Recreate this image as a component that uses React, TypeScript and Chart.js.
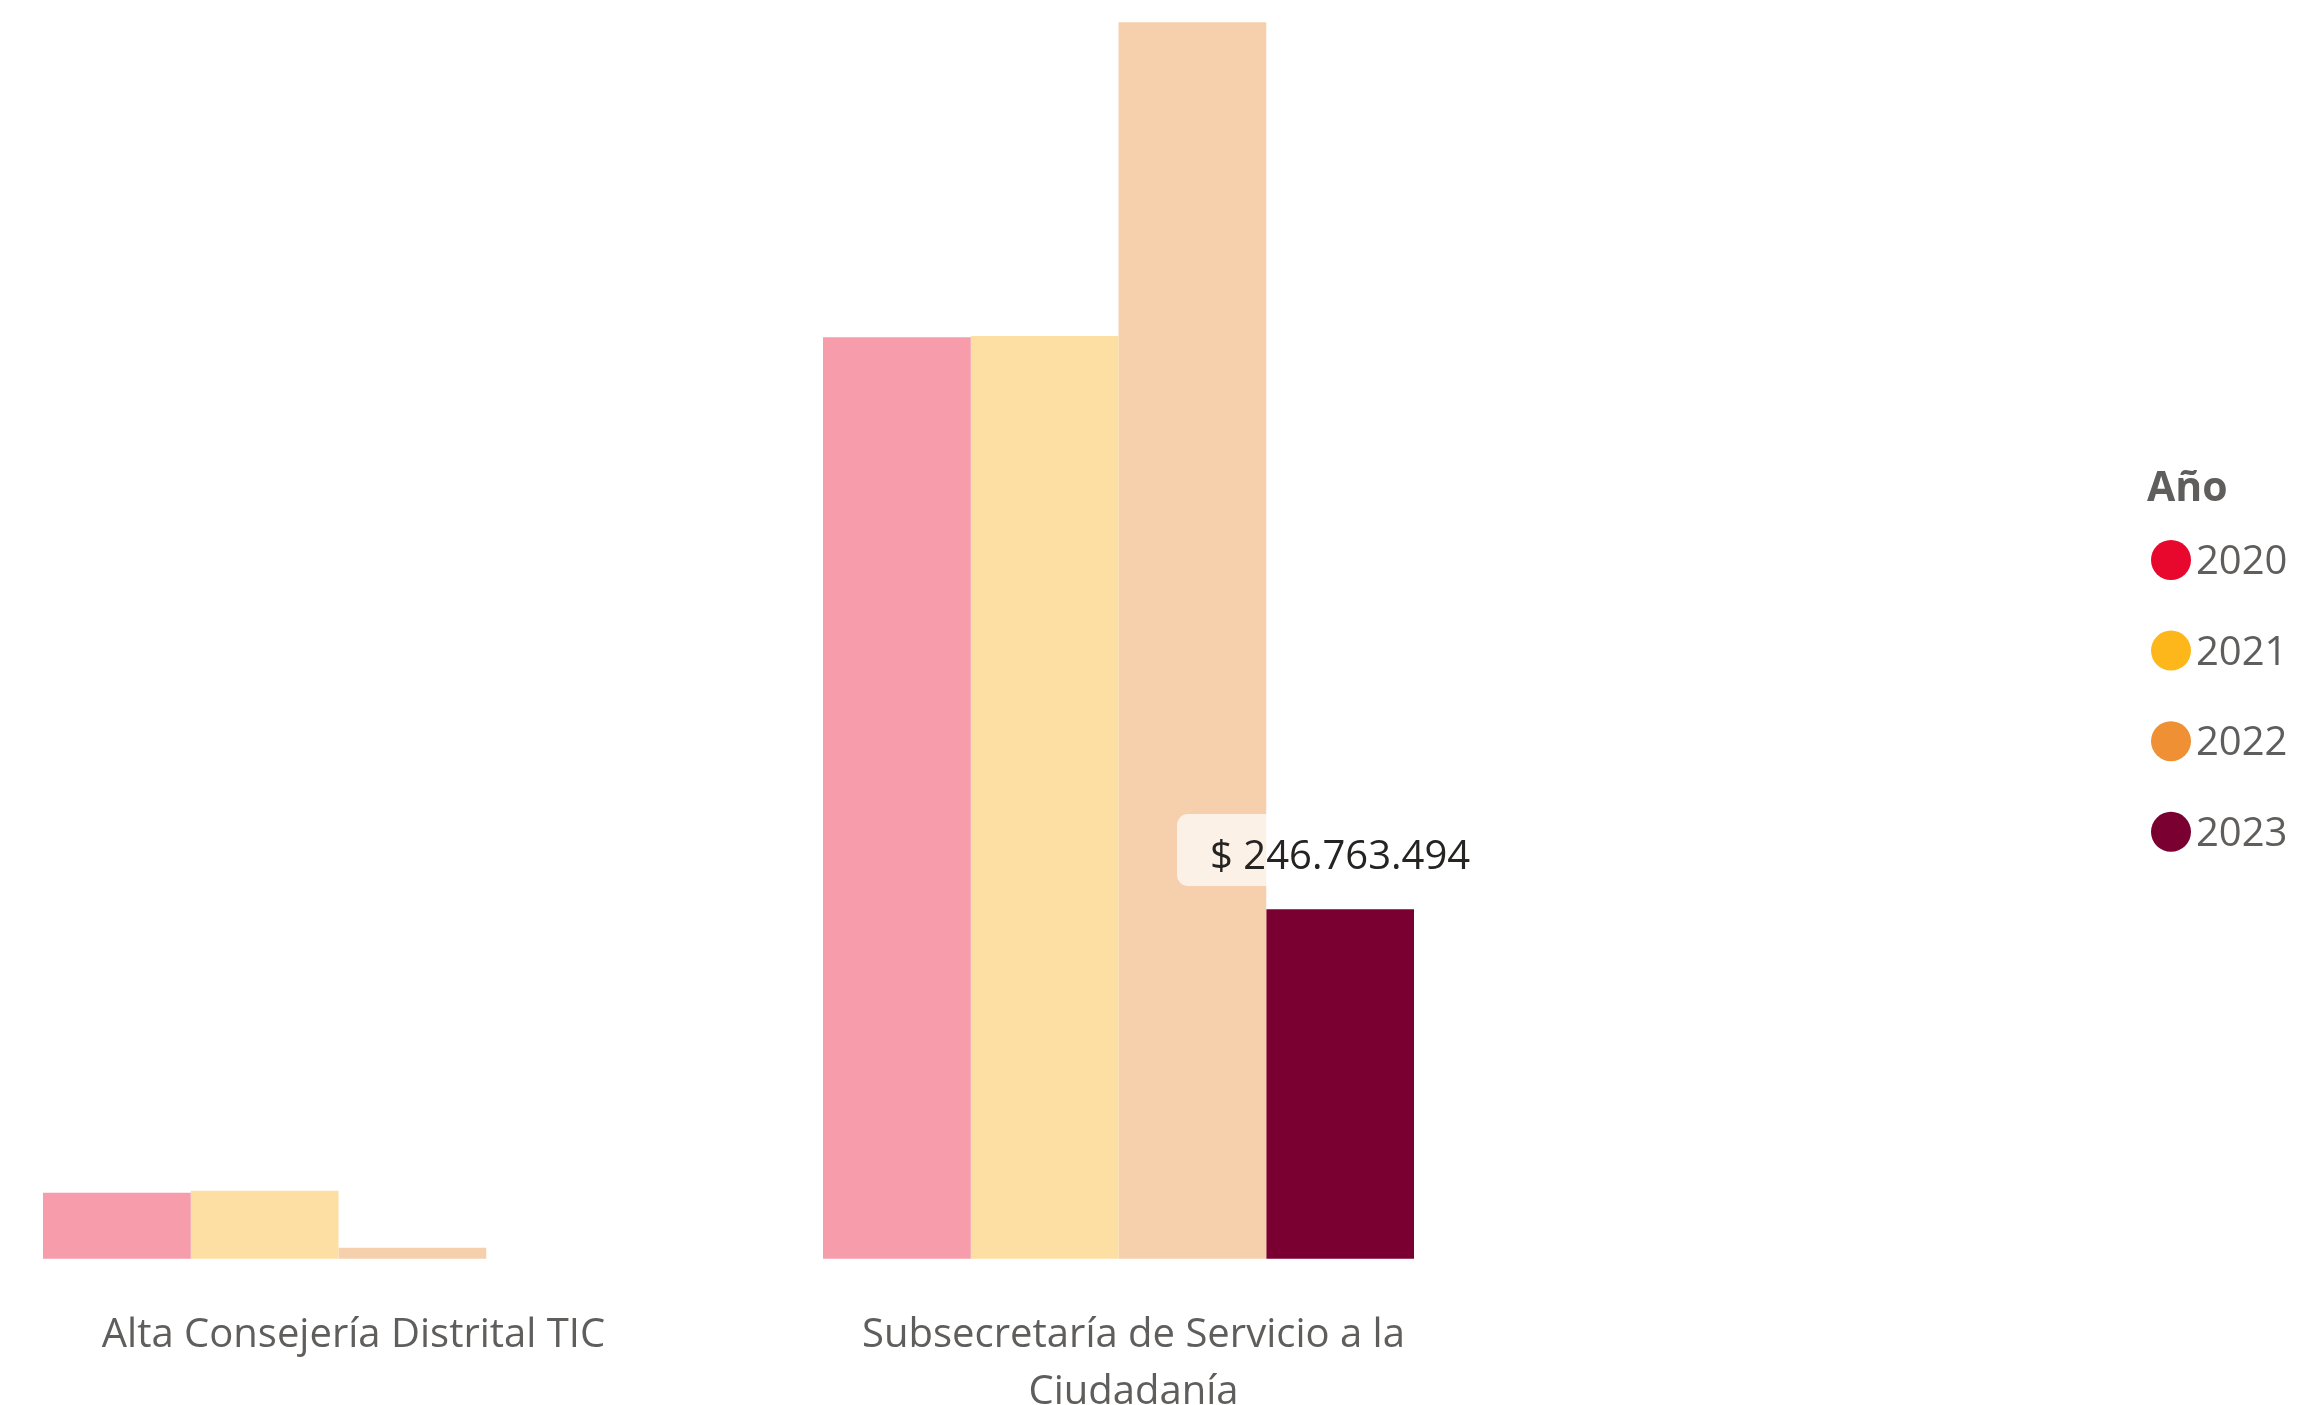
import React, { useEffect, useRef } from "react";
import { Chart, registerables } from "chart.js";

Chart.register(...registerables);

// ---------- data ----------
const categories: (string | string[])[] = [
  "Alta Consejería Distrital TIC",
  ["Subsecretaría de Servicio a la", "Ciudadanía"],
];
const years = ["2020", "2021", "2022", "2023"];
const values2020 = [46600000, 650700000];
const values2021 = [48000000, 651700000];
const values2022 = [7800000, 873200000];
const values2023: (number | null)[] = [null, 246763494];
const legendTitle = "Año";

// ---------- styles ----------
const legendColors = ["#E8082E", "#FDB71A", "#EE9033", "#7B0032"];
const barColors = ["#F69CAB", "#FEDFA3", "#F6D0AD", "#7B0032"];
const FONT = '"Open Sans", "Noto Sans", sans-serif';
const TEXT_GRAY = "#605E5C";

const W = 2323;
const H = 1405;

function fmtThousands(v: number): string {
  return String(Math.round(v)).replace(/\B(?=(\d{3})+(?!\d))/g, ".");
}

function roundRectPath(ctx: CanvasRenderingContext2D, x: number, y: number, w: number, h: number, r: number) {
  ctx.beginPath();
  ctx.moveTo(x + r, y);
  ctx.lineTo(x + w - r, y);
  ctx.arcTo(x + w, y, x + w, y + r, r);
  ctx.lineTo(x + w, y + h - r);
  ctx.arcTo(x + w, y + h, x + w - r, y + h, r);
  ctx.lineTo(x + r, y + h);
  ctx.arcTo(x, y + h, x, y + h - r, r);
  ctx.lineTo(x, y + r);
  ctx.arcTo(x, y, x + r, y, r);
  ctx.closePath();
}

const dataLabelPlugin = {
  id: "highlightDataLabel",
  afterDatasetsDraw(chart: any) {
    const ctx: CanvasRenderingContext2D = chart.ctx;
    const dsIndex = 3;
    const meta = chart.getDatasetMeta(dsIndex);
    const vals = chart.data.datasets[dsIndex].data as (number | null)[];
    ctx.save();
    meta.data.forEach((bar: any, i: number) => {
      const v = vals[i];
      if (v == null) return;
      const { x, y } = bar.getProps(["x", "y"], true);
      const text = "$ " + fmtThousands(v);
      ctx.font = `40px ${FONT}`;
      const tw = ctx.measureText(text).width;
      const boxW = tw + 66;
      const boxH = 72;
      roundRectPath(ctx, x - boxW / 2, y - 95.3, boxW, boxH, 11);
      ctx.fillStyle = "rgba(255,255,255,0.7)";
      ctx.fill();
      ctx.fillStyle = "#252423";
      ctx.textAlign = "center";
      ctx.textBaseline = "alphabetic";
      ctx.fillText(text, x, y - 40);
    });
    ctx.restore();
  },
};

const legendPlugin = {
  id: "sideLegend",
  afterDraw(chart: any) {
    const ctx: CanvasRenderingContext2D = chart.ctx;
    ctx.save();
    ctx.textAlign = "left";
    ctx.textBaseline = "alphabetic";
    ctx.fillStyle = TEXT_GRAY;
    ctx.font = `bold 41px ${FONT}`;
    ctx.fillText(legendTitle, 2147, 501);
    chart.data.datasets.forEach((ds: any, i: number) => {
      const cy = 560 + i * 90.6;
      ctx.beginPath();
      ctx.arc(2171, cy, 20, 0, Math.PI * 2);
      ctx.fillStyle = legendColors[i];
      ctx.fill();
      ctx.fillStyle = TEXT_GRAY;
      ctx.font = `40px ${FONT}`;
      ctx.fillText(ds.label, 2196, cy + 14);
    });
    ctx.restore();
  },
};

export default function App() {
  const canvasRef = useRef<HTMLCanvasElement | null>(null);

  useEffect(() => {
    if (!canvasRef.current) return;
    const series = [values2020, values2021, values2022, values2023];
    const chart = new Chart(canvasRef.current, {
      type: "bar",
      data: {
        labels: categories,
        datasets: years.map((y, i) => ({
          label: y,
          data: series[i],
          backgroundColor: barColors[i],
          borderWidth: 0,
          categoryPercentage: 0.7577,
          barPercentage: 1,
          clip: false,
        })),
      },
      options: {
        responsive: false,
        animation: false,
        devicePixelRatio: 1,
        layout: {
          padding: { left: 338.5, right: W - 1118.5, top: 12.7, bottom: 0 },
        },
        plugins: {
          legend: { display: false },
          tooltip: { enabled: false },
          title: { display: false },
        },
        scales: {
          x: {
            type: "category",
            offset: false,
            grid: { display: false, drawTicks: false },
            border: { display: false },
            ticks: {
              autoSkip: false,
              maxRotation: 0,
              minRotation: 0,
              padding: 48,
              labelOffset: 15,
              color: TEXT_GRAY,
              font: { family: FONT, size: 40, lineHeight: 1.43 },
            },
            afterFit: (scale: any) => {
              scale.height = H - 1258.7;
            },
          },
          y: {
            display: false,
            min: 0,
            max: 880000000,
          },
        },
      },
      plugins: [dataLabelPlugin, legendPlugin],
    });
    return () => chart.destroy();
  }, []);

  return (
    <div style={{ position: "fixed", left: 0, top: 0, width: W, height: H, background: "#ffffff" }}>
      <canvas ref={canvasRef} width={W} height={H} style={{ display: "block", width: W, height: H }} />
    </div>
  );
}
